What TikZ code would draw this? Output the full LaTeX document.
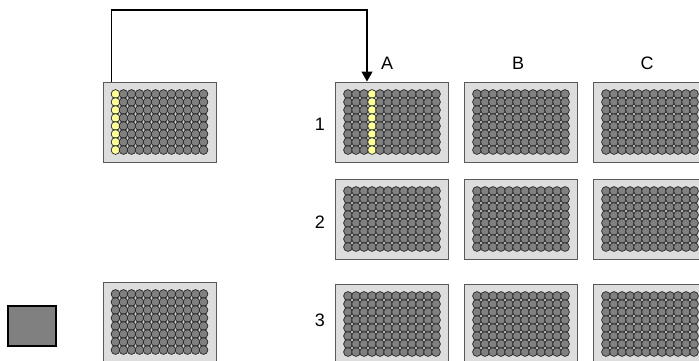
\documentclass[tikz,border=0pt]{standalone}
\usepackage{fontspec}
\setmainfont{Liberation Sans}
\usepackage{tikz}
\usetikzlibrary{arrows.meta, positioning, calc}
\definecolor{plateColor}{RGB}{221,221,221}
\definecolor{wellColor}{RGB}{128,128,128}
\definecolor{fillColor}{RGB}{255,255,153}
\newcommand{\platewells}[2]{%
  \foreach \c in {0,...,11}{
    \foreach \r in {0,...,7}{
      \ifnum\c=#2 \def\wellcol{fillColor}\else\def\wellcol{wellColor}\fi
      \draw[well, fill=\wellcol] ($(#1.center)+({(\c-5.5)*8},{(\r-3.5)*8})$) circle[radius=4.4pt];
    }}}

\begin{document}
\begin{tikzpicture}[
        x=1pt, y=-1pt,
        plate/.style={rectangle, draw=black!65, fill=plateColor, line width=1pt, minimum width=113pt, minimum height=80pt, inner sep=0pt},
        well/.style={draw=black!85, line width=0.7pt},
        lbl/.style={inner sep=0pt, font=\fontsize{18}{20}\selectfont},
        arrow/.style={-{Triangle[length=10pt, width=11pt]}, line width=1.2pt}
    ]
        \useasboundingbox (0,0) rectangle (699,360);

        % Source plates
        \node[plate] (src) at (159.5,122) {};
        \node[plate] (spare) at (159.5,322) {};

        % Tip box
        \node[rectangle, draw=black, fill=wellColor, line width=2pt, minimum width=48pt, minimum height=40pt] (tip) at (32,326) {};

        % Target plates
        \node[plate] (pA1) at (392,122) {};
        \node[plate, right=15pt of pA1] (pB1) {};
        \node[plate, right=15pt of pB1] (pC1) {};
        \node[plate, below=16pt of pA1] (pA2) {};
        \node[plate, right=15pt of pA2] (pB2) {};
        \node[plate, right=15pt of pB2] (pC2) {};
        \node[plate, below=24pt of pA2] (pA3) {};
        \node[plate, right=15pt of pA3] (pB3) {};
        \node[plate, right=15pt of pB3] (pC3) {};

        % Wells
        \platewells{src}{0}
        \platewells{spare}{-1}
        \platewells{pA1}{3}
        \foreach \p in {pB1,pC1,pA2,pB2,pC2,pA3,pB3,pC3}{\platewells{\p}{-1}}

        % Column and row labels
        \node[lbl, above=12pt of pA1, xshift=-5pt] (colA) {A};
        \node[lbl, above=12pt of pB1, xshift=-3pt] (colB) {B};
        \node[lbl, above=12pt of pC1, xshift=-3pt] (colC) {C};
        \node[lbl, left=10pt of pA1, yshift=-2pt] (row1) {1};
        \node[lbl, left=10pt of pA2, yshift=-3pt] (row2) {2};
        \node[lbl, left=10pt of pA3, yshift=4pt] (row3) {3};

        % Transfer arrow
        \coordinate (from) at ($(src.north west)+(9,0)$);
        \coordinate (to) at ($(pA1.north west)+(32,0)$);
        \coordinate (bend) at (240,10);
        \draw[arrow] (from) |- (bend) -| (to);
    \end{tikzpicture}
\end{document}
